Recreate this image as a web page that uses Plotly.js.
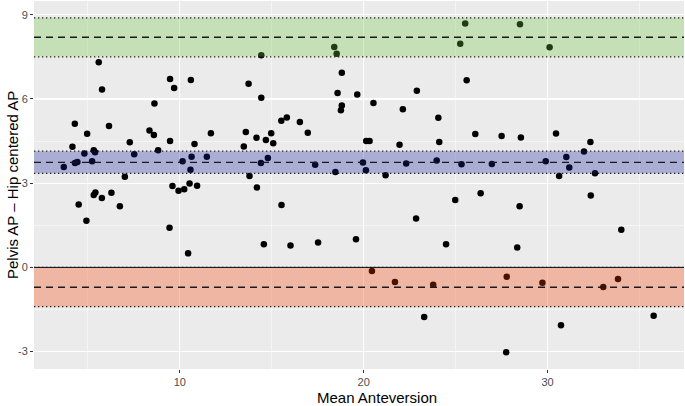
<!DOCTYPE html>
<html>
<head>
<meta charset="utf-8">
<script src="https://cdn.plot.ly/plotly-3.0.1.min.js"></script>
<style>html,body{margin:0;padding:0;background:#fff}#chart{width:685px;height:406px}</style>
</head>
<body>
<div id="chart"></div>
<script>
// Mean anteversion (x) and difference Pelvis AP - Hip centered AP (y)
const meanAnteversion = [5.59,5.77,4.29,4.96,6.15,4.16,3.69,4.30,4.43,4.81,5.32,5.39,5.23,5.32,5.41,5.76,6.28,7.01,7.28,7.52,
  8.35,8.59,8.62,8.82,9.47,9.69,9.47,9.60,9.93,10.24,10.15,10.60,10.80,10.64,10.58,10.53,10.94,11.47,11.69,4.50,
  4.92,6.74,9.44,10.45,14.43,13.74,14.43,13.59,13.48,14.17,14.68,14.97,15.08,15.52,15.82,16.53,16.96,14.41,14.79,13.79,
  14.19,17.36,18.40,18.53,18.81,18.58,18.81,18.76,19.65,20.53,20.14,20.32,18.46,19.96,20.12,21.19,21.95,22.13,22.89,24.06,
  24.11,23.97,22.31,24.98,25.25,25.52,25.60,25.32,28.50,30.11,26.07,27.50,28.55,30.46,32.33,31.98,31.02,31.18,29.90,26.97,
  30.63,32.58,26.36,32.35,15.53,14.57,16.02,17.52,19.58,20.45,21.70,23.78,23.29,22.85,24.48,28.48,34.01,28.35,27.78,29.72,
  33.03,33.83,30.73,27.75,35.77];
const difference = [7.31,6.34,5.12,4.76,5.04,4.30,3.58,3.72,3.75,4.06,4.17,4.10,3.78,2.58,2.67,2.47,2.66,3.23,4.46,4.03,
  4.88,4.72,5.84,4.17,6.71,6.39,4.50,2.90,2.73,2.78,3.78,6.68,4.40,3.94,3.48,2.99,2.91,3.94,4.78,2.24,
  1.66,2.18,1.41,0.50,7.56,6.54,6.04,4.82,4.31,4.62,4.54,4.78,4.42,5.22,5.34,5.18,4.80,3.72,3.90,3.26,
  2.85,3.66,7.85,7.61,6.93,6.21,5.77,5.60,6.16,5.86,4.50,4.50,3.40,3.74,3.46,3.28,4.37,5.63,6.29,5.33,
  4.47,3.81,3.70,2.40,7.97,8.69,6.67,3.67,8.66,7.84,4.75,4.68,4.63,4.77,4.47,4.13,3.93,3.56,3.78,3.68,
  3.26,3.35,2.64,2.56,2.22,0.82,0.78,0.89,1.00,-0.13,-0.52,-0.62,-1.77,1.74,0.82,2.18,1.34,0.71,-0.33,-0.55,
  -0.70,-0.41,-2.06,-3.02,-1.72];

// Bland-Altman statistics: estimate with lower / upper CI
const bandNames = ["upperLoA", "meanBias", "lowerLoA"];
const bandEstimate = [8.20, 3.74, -0.71];
const bandLower = [7.50, 3.35, -1.40];
const bandUpper = [8.89, 4.14, 0.00];
const bandColors = ["rgba(110,195,60,0.30)", "rgba(20,30,160,0.30)", "rgba(252,60,0,0.30)"];

// Tick labels
const xTickVals = [10, 20, 30];
const xTickText = ["10", "20", "30"];
const yTickVals = [-3, 0, 3, 6, 9];
const yTickText = ["-3", "0", "3", "6", "9"];

const xTitle = "Mean Anteversion";
const yTitle = "Pelvis AP \u2013 Hip centered AP";

const shapes = [];
for (let i = 0; i < bandNames.length; i++) {
  shapes.push({type:'rect', xref:'paper', yref:'y', x0:0, x1:1, y0:bandLower[i], y1:bandUpper[i],
    fillcolor:bandColors[i], line:{width:0}, layer:'above'});
}
shapes.push({type:'line', xref:'paper', yref:'y', x0:0, x1:1, y0:0, y1:0,
  line:{color:'#000000', width:1}, layer:'above'});
for (let i = 0; i < bandNames.length; i++) {
  shapes.push({type:'line', xref:'paper', yref:'y', x0:0, x1:1, y0:bandEstimate[i], y1:bandEstimate[i],
    line:{color:'#1a1a1a', width:1.4, dash:'7px,5px'}, layer:'above'});
  [bandLower[i], bandUpper[i]].forEach(v => shapes.push({type:'line', xref:'paper', yref:'y', x0:0, x1:1, y0:v, y1:v,
    line:{color:'#1a1a1a', width:1.3, dash:'1.3px,2.7px'}, layer:'above'}));
}

const trace = {
  x: meanAnteversion, y: difference, type:'scatter', mode:'markers',
  marker:{color:'#000000', size:6.5}, hoverinfo:'skip', showlegend:false, cliponaxis:false
};

const axisFont = {family:'Liberation Sans, Arial, sans-serif', size:11, color:'#4D4D4D'};
const layout = {
  width:685, height:406,
  margin:{l:34, r:1, t:1, b:37},
  paper_bgcolor:'#ffffff', plot_bgcolor:'#EBEBEB',
  font:{family:'Liberation Sans, Arial, sans-serif'},
  showlegend:false,
  xaxis:{range:[2.07, 37.42], tickmode:'array', tickvals:xTickVals, ticktext:xTickText,
    showgrid:true, gridcolor:'#ffffff', gridwidth:1.1,
    zeroline:false, showline:false, ticks:'outside', ticklen:3, tickwidth:1, tickcolor:'#333333',
    tickfont:axisFont,
    minor:{tick0:0, dtick:5, showgrid:true, gridcolor:'#ffffff', gridwidth:0.5, ticks:''}},
  yaxis:{range:[-3.62, 9.49], tickmode:'array', tickvals:yTickVals, ticktext:yTickText,
    showgrid:true, gridcolor:'#ffffff', gridwidth:1.1,
    zeroline:false, showline:false, ticks:'outside', ticklen:3, tickwidth:1, tickcolor:'#333333',
    tickfont:axisFont,
    minor:{tick0:0, dtick:1.5, showgrid:true, gridcolor:'#ffffff', gridwidth:0.5, ticks:''}},
  shapes: shapes,
  annotations:[
    {text:xTitle, xref:'paper', yref:'paper', x:0.528, y:0, xanchor:'center', yanchor:'middle', yshift:-28,
      showarrow:false, font:{family:'Liberation Sans, Arial, sans-serif', size:15, color:'#000000'}},
    {text:yTitle, xref:'paper', yref:'paper', x:0, y:0.5, xanchor:'center', yanchor:'middle', xshift:-22,
      textangle:-90, showarrow:false, font:{family:'Liberation Sans, Arial, sans-serif', size:15, color:'#000000'}}
  ]
};

Plotly.newPlot('chart', [trace], layout, {displayModeBar:false, staticPlot:true});
</script>
</body>
</html>
